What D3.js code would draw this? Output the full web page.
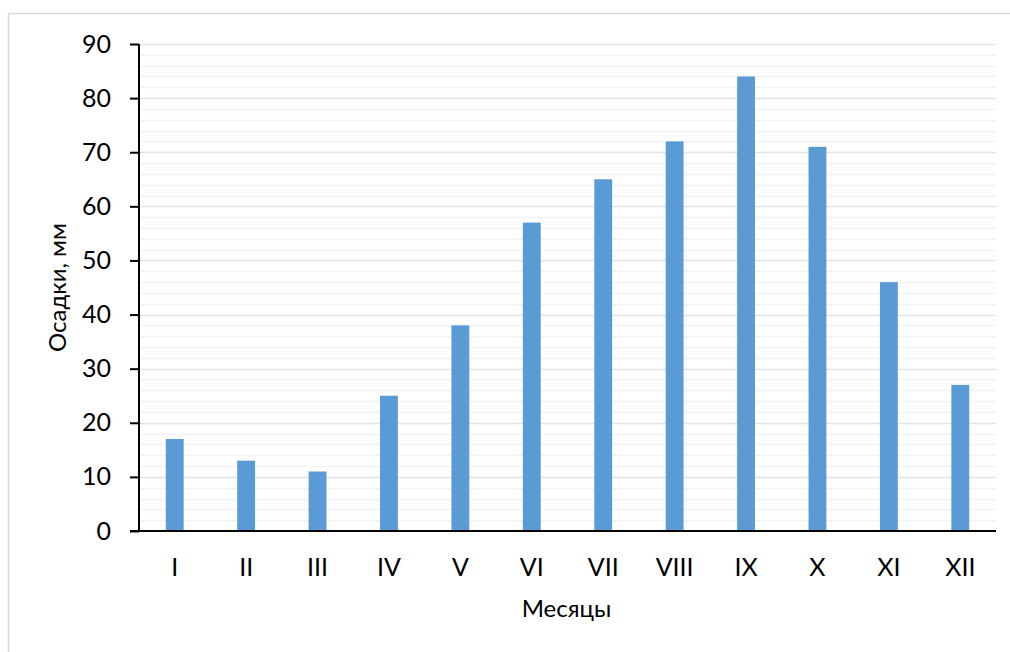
<!DOCTYPE html>
<html>
<head>
<meta charset="utf-8">
<script src="https://cdn.jsdelivr.net/npm/d3@7"></script>
<style>
  body { margin: 0; background: #fff; }
  svg { display: block; font-family: Lato, "Noto Sans", sans-serif; }
</style>
</head>
<body>
<svg id="chart" width="1010" height="652"></svg>
<script>
const categories = ["I","II","III","IV","V","VI","VII","VIII","IX","X","XI","XII"];
const precipitation = [17, 13, 11, 25, 38, 57, 65, 72, 84, 71, 46, 27];
const yTicks = [0, 10, 20, 30, 40, 50, 60, 70, 80, 90];
const yMinorTicks = [2,4,6,8,12,14,16,18,22,24,26,28,32,34,36,38,42,44,46,48,52,54,56,58,62,64,66,68,72,74,76,78,82,84,86,88];
const xTitle = "Месяцы";
const yTitle = "Осадки, мм";

const svg = d3.select("#chart");
const margin = { left: 139, right: 1010 - 996, top: 44, bottom: 652 - 531 };
const W = 1010, H = 652;

// outer chart border
svg.append("rect").attr("x", 8.5).attr("y", 13.5).attr("width", 1010).attr("height", 660)
  .attr("fill", "#fff").attr("stroke", "#d9d9d9").attr("stroke-width", 1.5);

const x = d3.scaleBand().domain(categories).range([margin.left, W - margin.right]).paddingInner(0.75).paddingOuter(0.375);
const y = d3.scaleLinear().domain([0, 90]).range([H - margin.bottom, margin.top]);

// minor gridlines
svg.append("g").selectAll("line").data(yMinorTicks).join("line")
  .attr("x1", margin.left).attr("x2", W - margin.right)
  .attr("y1", d => Math.round(y(d)) + 0.5).attr("y2", d => Math.round(y(d)) + 0.5)
  .attr("stroke", "#f2f2f2").attr("stroke-width", 1.5);
// major gridlines
svg.append("g").selectAll("line").data(yTicks.filter(d => d > 0)).join("line")
  .attr("x1", margin.left).attr("x2", W - margin.right)
  .attr("y1", d => Math.round(y(d)) + 0.5).attr("y2", d => Math.round(y(d)) + 0.5)
  .attr("stroke", "#e3e3e3").attr("stroke-width", 1.5);

// bars
svg.append("g").selectAll("rect").data(precipitation).join("rect")
  .attr("x", (d, i) => x(categories[i]))
  .attr("width", x.bandwidth())
  .attr("y", d => y(d))
  .attr("height", d => y(0) - y(d))
  .attr("fill", "#5b9bd5");

// y axis
const yAxis = svg.append("g").attr("transform", `translate(${margin.left},0)`)
  .call(d3.axisLeft(y).tickValues(yTicks).tickSize(9).tickPadding(19).tickFormat(d3.format("d")));
yAxis.select(".domain").attr("stroke", "#000").attr("stroke-width", 2).attr("d", `M0,${y(90)}V${y(0)}`);
yAxis.selectAll(".tick line").attr("stroke", "#000").attr("stroke-width", 2);
yAxis.selectAll(".tick text").attr("font-size", 25).attr("fill", "#000").attr("font-family", "Lato, sans-serif");

// x axis
const xAxis = svg.append("g").attr("transform", `translate(0,${y(0)})`)
  .call(d3.axisBottom(x).tickSize(0).tickPadding(27));
xAxis.select(".domain").attr("stroke", "#000").attr("stroke-width", 2).attr("d", `M130,0H${W - margin.right}`);
xAxis.selectAll(".tick text").attr("font-size", 25).attr("fill", "#000").attr("font-family", "Lato, sans-serif");

// axis titles
svg.append("text").attr("x", (margin.left + W - margin.right) / 2 - 1).attr("y", 617)
  .attr("text-anchor", "middle").attr("font-size", 24).attr("fill", "#000").text(xTitle);
svg.append("text").attr("transform", `translate(66,${(y(0) + y(90)) / 2}) rotate(-90)`)
  .attr("text-anchor", "middle").attr("font-size", 24).attr("fill", "#000").text(yTitle);
</script>
</body>
</html>
